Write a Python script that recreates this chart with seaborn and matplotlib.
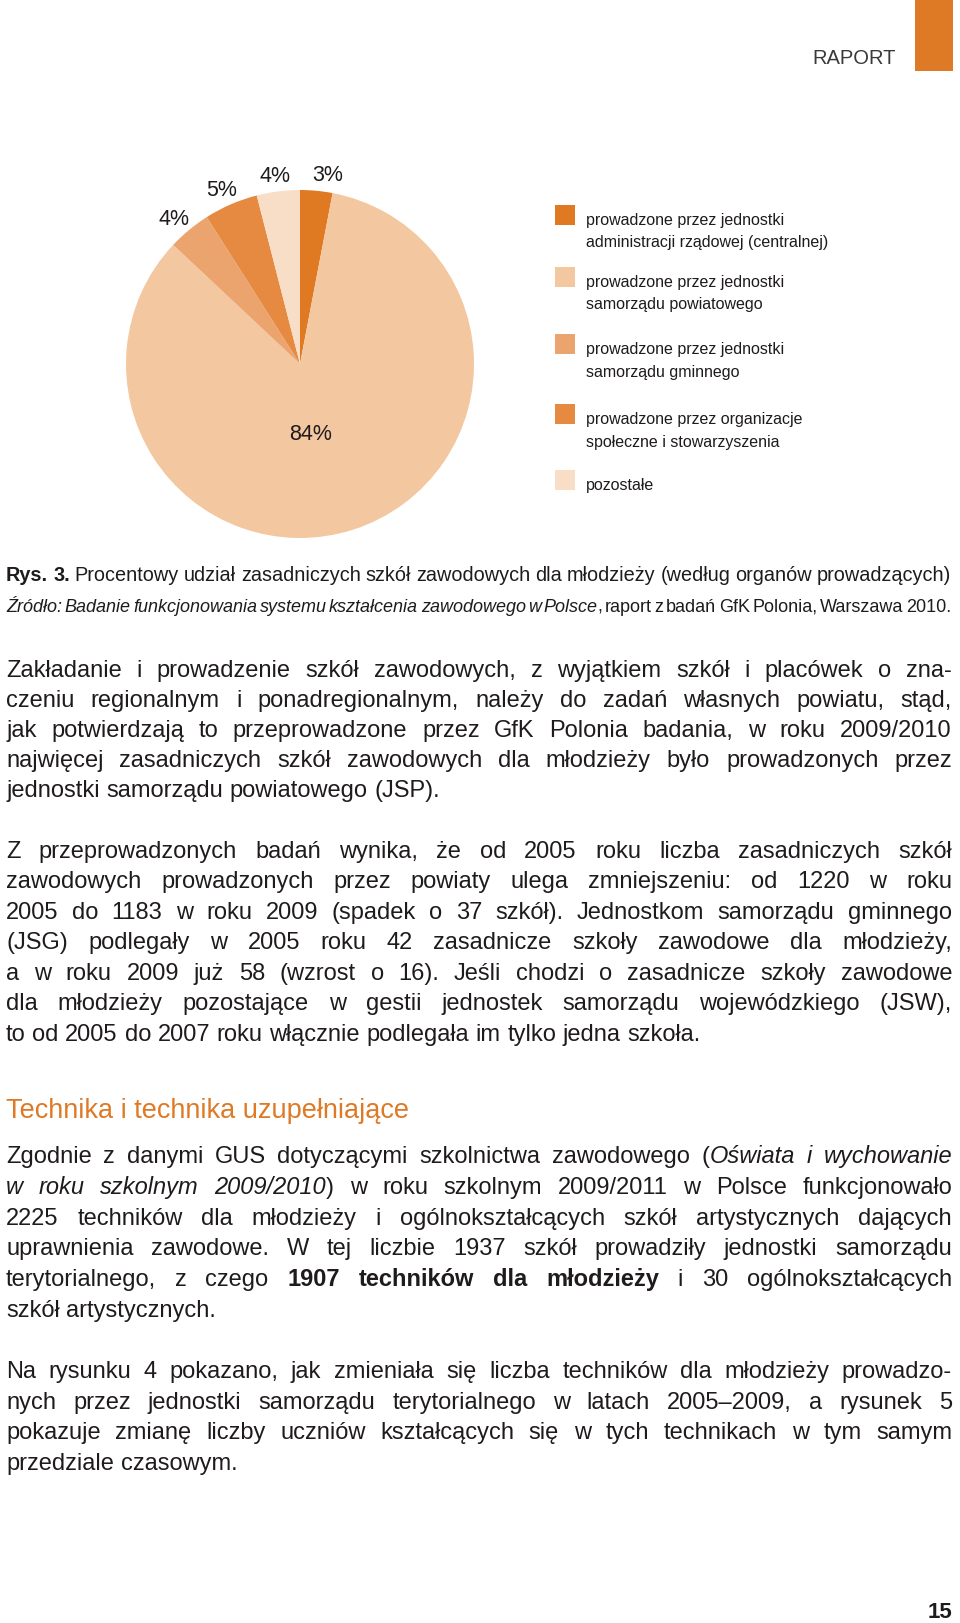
import matplotlib
matplotlib.use("Agg")
import matplotlib.pyplot as plt
from matplotlib.patches import Rectangle
from matplotlib import font_manager
import seaborn as sns
import pandas as pd

# ---------------- chart data ----------------
categories = [
    "prowadzone przez jednostki\nadministracji rządowej (centralnej)",
    "prowadzone przez jednostki\nsamorządu powiatowego",
    "prowadzone przez jednostki\nsamorządu gminnego",
    "prowadzone przez organizacje\nspołeczne i stowarzyszenia",
    "pozostałe",
]
shares = [3, 84, 4, 5, 4]
share_labels = ["3%", "84%", "4%", "5%", "4%"]
slice_colors = ["#E07A22", "#F3C7A0", "#ECA46E", "#E68A41", "#F8DDC7"]

header_text = "RAPORT"
page_number = "15"

caption_lines = [
    [("Rys. 3.", "b"), (" Procentowy udział zasadniczych szkół zawodowych dla młodzieży (według organów prowadzących)", "n")],
    [("Źródło: Badanie funkcjonowania systemu kształcenia zawodowego w Polsce", "i"),
     (", raport z badań GfK Polonia, Warszawa 2010.", "n")],
]

paragraph_1 = [
    [("Zakładanie i prowadzenie szkół zawodowych, z wyjątkiem szkół i placówek o zna-", "n")],
    [("czeniu regionalnym i ponadregionalnym, należy do zadań własnych powiatu, stąd,", "n")],
    [("jak potwierdzają to przeprowadzone przez GfK Polonia badania, w roku 2009/2010", "n")],
    [("najwięcej zasadniczych szkół zawodowych dla młodzieży było prowadzonych przez", "n")],
    [("jednostki samorządu powiatowego (JSP).", "n")],
]
paragraph_2 = [
    [("Z przeprowadzonych badań wynika, że od 2005 roku liczba zasadniczych szkół", "n")],
    [("zawodowych prowadzonych przez powiaty ulega zmniejszeniu: od 1220 w roku", "n")],
    [("2005 do 1183 w roku 2009 (spadek o 37 szkół). Jednostkom samorządu gminnego", "n")],
    [("(JSG) podlegały w 2005 roku 42 zasadnicze szkoły zawodowe dla młodzieży,", "n")],
    [("a w roku 2009 już 58 (wzrost o 16). Jeśli chodzi o zasadnicze szkoły zawodowe", "n")],
    [("dla młodzieży pozostające w gestii jednostek samorządu wojewódzkiego (JSW),", "n")],
    [("to od 2005 do 2007 roku włącznie podlegała im tylko jedna szkoła.", "n")],
]
heading_text = "Technika i technika uzupełniające"
paragraph_3 = [
    [("Zgodnie z danymi GUS dotyczącymi szkolnictwa zawodowego (", "n"), ("Oświata i wychowanie", "i")],
    [("w roku szkolnym 2009/2010", "i"), (") w roku szkolnym 2009/2011 w Polsce funkcjonowało", "n")],
    [("2225 techników dla młodzieży i ogólnokształcących szkół artystycznych dających", "n")],
    [("uprawnienia zawodowe. W tej liczbie 1937 szkół prowadziły jednostki samorządu", "n")],
    [("terytorialnego, z czego ", "n"), ("1907 techników dla młodzieży", "b"), (" i 30 ogólnokształcących", "n")],
    [("szkół artystycznych.", "n")],
]
paragraph_4 = [
    [("Na rysunku 4 pokazano, jak zmieniała się liczba techników dla młodzieży prowadzo-", "n")],
    [("nych przez jednostki samorządu terytorialnego w latach 2005–2009, a rysunek 5", "n")],
    [("pokazuje zmianę liczby uczniów kształcących się w tych technikach w tym samym", "n")],
    [("przedziale czasowym.", "n")],
]

df = pd.DataFrame({"kategoria": categories, "udzial": shares,
                   "etykieta": share_labels, "kolor": slice_colors})

# ---------------- style ----------------
sns.set_theme(style="white")
names = {f.name for f in font_manager.fontManager.ttflist}
BASE = next(f for f in ["Liberation Sans", "Arial", "DejaVu Sans"] if f in names)
plt.rcParams["font.family"] = [BASE, "DejaVu Sans"]
TXT = "#1F1B1C"
ORANGE = "#DE7A26"

W, H = 960, 1624
fig = plt.figure(figsize=(W / 100, H / 100), dpi=100)
fig.patch.set_facecolor("white")
page = fig.add_axes([0, 0, 1, 1])
page.set_xlim(0, W)
page.set_ylim(H, 0)
page.axis("off")
R = fig.canvas.get_renderer()

KIND = {"n": ("normal", "normal"), "i": ("normal", "italic"), "b": ("bold", "normal")}


def measure(s, size, kind="n"):
    wgt, sty = KIND[kind]
    t = page.text(0, 0, s, fontsize=size, fontweight=wgt, fontstyle=sty)
    w = t.get_window_extent(renderer=R).width
    t.remove()
    return w


def space_w(size):
    return measure("a a", size) - measure("aa", size)


def split_words(segments):
    pieces, pend = [], False
    for text, kind in segments:
        parts = text.split(" ")
        for i, p in enumerate(parts):
            if i > 0:
                pend = True
            if p == "":
                continue
            pieces.append((p, kind, pend))
            pend = False
    words = []
    for p in pieces:
        if p[2] or not words:
            words.append([p])
        else:
            words[-1].append(p)
    return words


def line_stats(segments, size):
    words = split_words(segments)
    widths = [[measure(p[0], size, p[1]) for p in w] for w in words]
    total = sum(sum(ws) for ws in widths)
    return words, widths, total


def draw_line(segments, y, x0, x1, nominal, justify, color=TXT, min_gap=0.8):
    words, widths, total = line_stats(segments, nominal)
    gaps = len(words) - 1
    sp = space_w(nominal)
    size = nominal
    if justify and gaps > 0:
        need = total + min_gap * sp * gaps
        if need > (x1 - x0):
            size = nominal * (x1 - x0) / need
            words, widths, total = line_stats(segments, size)
            sp = space_w(size)
    gap = (x1 - x0 - total) / gaps if (justify and gaps > 0) else sp
    x = x0
    for w, ws in zip(words, widths):
        for (p, kind, _), pw in zip(w, ws):
            wgt, sty = KIND[kind]
            page.text(x, y, p, fontsize=size, fontweight=wgt, fontstyle=sty,
                      color=color, ha="left", va="baseline")
            x += pw
        x += gap


def draw_paragraph(lines, y0, step, size, x0=6, x1=952):
    for i, seg in enumerate(lines):
        draw_line(seg, y0 + i * step, x0, x1, size, justify=(i < len(lines) - 1))


# ---------------- header ----------------
page.add_patch(Rectangle((915, 0), 38, 72, facecolor=ORANGE, edgecolor="none"))
page.text(812, 64, header_text, fontsize=14.5, color="#3A3A3A", ha="left", va="baseline")

# ---------------- pie chart ----------------
cx, cy, r = 300, 365, 174
pie_ax = fig.add_axes([(cx - r) / W, 1 - (cy + r) / H, 2 * r / W, 2 * r / H])
wedges, texts = pie_ax.pie(df["udzial"], labels=df["etykieta"], colors=df["kolor"],
                           startangle=90, counterclock=False, labeldistance=1.14,
                           wedgeprops=dict(linewidth=0),
                           textprops=dict(fontsize=15.5, color=TXT))
pie_ax.set_xlim(-1, 1)
pie_ax.set_ylim(-1, 1)
pie_ax.set_aspect("equal")
pie_ax.axis("off")
for t in texts:
    x, y = t.get_position()
    t.set_ha("center")
    t.set_va("center")
    t.set_position((x + (0.05 if x > 0 else 0.0), y - 0.045))
texts[1].set_position((0.06, -0.40))

# ---------------- legend ----------------
legend_tops = [206, 268, 335, 405, 471]
leg_size_nom = 11.5
leg_lines = [ln for c in df["kategoria"] for ln in c.split("\n")]
leg_size = min(leg_size_nom * 244 / max(measure(l, leg_size_nom) for l in leg_lines), leg_size_nom)
for top, cat, col in zip(legend_tops, df["kategoria"], df["kolor"]):
    page.add_patch(Rectangle((555, top), 20, 20, facecolor=col, edgecolor="none"))
    for j, ln in enumerate(cat.split("\n")):
        page.text(586, top + 19 + j * 22.5, ln, fontsize=leg_size, color=TXT,
                  ha="left", va="baseline")

# ---------------- caption ----------------
draw_line(caption_lines[0], 581, 6, 951, 15, justify=True, min_gap=0.9)
draw_line(caption_lines[1], 612, 6, 951, 15, justify=True, min_gap=0.5)

# ---------------- body text ----------------
BODY = 17
draw_paragraph(paragraph_1, 677, 30.0, BODY)
draw_paragraph(paragraph_2, 858, 30.5, BODY)
head_size = min(20.0, 17.5 * 402 / measure(heading_text, 17.5))
page.text(6, 1118, heading_text, fontsize=head_size, color=ORANGE, ha="left", va="baseline")
draw_paragraph(paragraph_3, 1163, 30.8, BODY)
draw_paragraph(paragraph_4, 1378, 30.6, BODY)

# ---------------- page number ----------------
page.text(952, 1618, page_number, fontsize=16, fontweight="bold", color=TXT,
          ha="right", va="baseline")

fig.savefig("out.png", dpi=100, facecolor="white")
